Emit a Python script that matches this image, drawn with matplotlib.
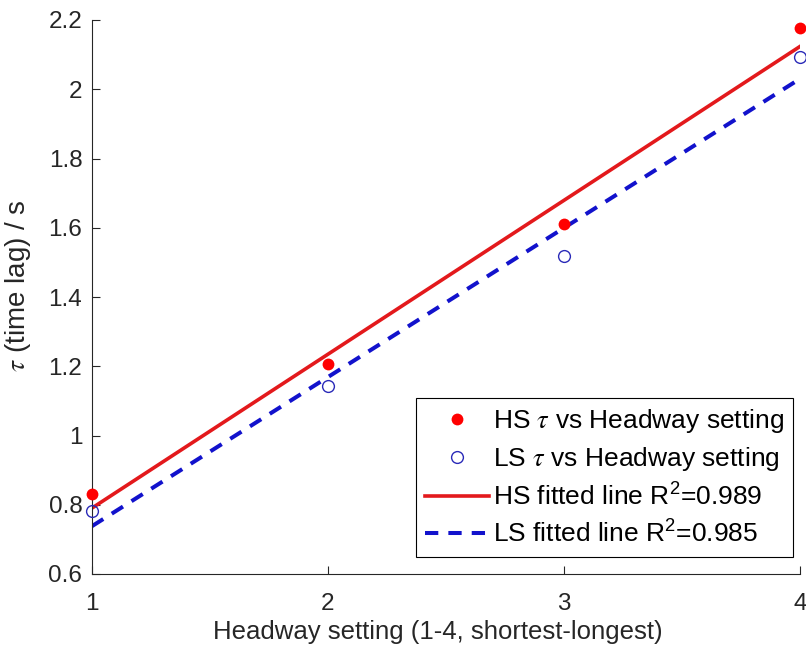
""" tau vs headway setting, HS and LS with fitted lines """
import matplotlib
matplotlib.use('Agg')
import matplotlib.pyplot as plt
import numpy as np

""" data read off the reference """
headway = np.array([1, 2, 3, 4])
hs_tau = np.array([0.832, 1.206, 1.612, 2.178])
ls_tau = np.array([0.783, 1.142, 1.519, 2.093])
hs_r2 = 0.989
ls_r2 = 0.985

x_ticks = [1, 2, 3, 4]
y_ticks = [0.6, 0.8, 1, 1.2, 1.4, 1.6, 1.8, 2, 2.2]
y_tick_labels = ['0.6', '0.8', '1', '1.2', '1.4', '1.6', '1.8', '2', '2.2']

plt.rcParams['font.family'] = ['Liberation Sans', 'DejaVu Sans']
plt.rcParams['mathtext.fontset'] = 'stix'
ink = '#262626'

# linear fits
hs_fit = np.polyfit(headway, hs_tau, 1)
ls_fit = np.polyfit(headway, ls_tau, 1)
x_line = np.array([headway[0], headway[-1]])

fig = plt.figure(figsize=(8.06, 6.54), dpi=100)
ax = fig.add_axes([92 / 806, 80 / 654, 708 / 806, 554 / 654])

ax.plot(headway, hs_tau, 'o', color='#ff0000', markersize=8.5, markeredgewidth=0,
        label=r'HS $\tau$ vs Headway setting', clip_on=False, zorder=3)
ax.plot(headway, ls_tau, 'o', markerfacecolor='none', markeredgecolor='#2a2ab8',
        markersize=8.5, markeredgewidth=1.0,
        label=r'LS $\tau$ vs Headway setting', clip_on=False, zorder=3)
ax.plot(x_line, np.polyval(hs_fit, x_line), '-', color='#e3191c', linewidth=2.6,
        label=r'HS fitted line R$\mathregular{^2}$=%.3f' % hs_r2)
ax.plot(x_line, np.polyval(ls_fit, x_line), '--', color='#1212cc', linewidth=2.9,
        dashes=(3.3, 2.5), label=r'LS fitted line R$\mathregular{^2}$=%.3f' % ls_r2)

ax.set_xlim(1, 4)
ax.set_ylim(0.6, 2.2)
ax.set_xticks(x_ticks)
ax.set_yticks(y_ticks)
ax.set_yticklabels(y_tick_labels)
ax.tick_params(direction='in', length=6, width=0.8, colors=ink, labelsize=17.5)
ax.tick_params(axis='y', pad=7)
ax.tick_params(axis='x', pad=14)
for side in ['top', 'right']:
    ax.spines[side].set_visible(False)
for side in ['left', 'bottom']:
    ax.spines[side].set_color(ink)
    ax.spines[side].set_linewidth(0.8)

ax.set_xlabel('Headway setting (1-4, shortest-longest)', fontsize=18.5, color=ink)
ax.xaxis.set_label_coords(0.489, -0.083)
ax.set_ylabel(r'$\tau$ (time lag) / s', fontsize=20, color=ink)
ax.yaxis.set_label_coords(-0.083, 0.52)

leg = ax.legend(loc='lower right', bbox_to_anchor=(0.990, 0.031), fontsize=19,
                frameon=True, fancybox=False, framealpha=1, edgecolor='black',
                handlelength=2.4, handletextpad=0.15, borderpad=0.35, labelspacing=0.38,
                markerscale=1, borderaxespad=0)
leg.get_frame().set_linewidth(0.8)
for t in leg.get_texts():
    t.set_color('black')

fig.savefig('out.png', dpi=100, facecolor='white')
